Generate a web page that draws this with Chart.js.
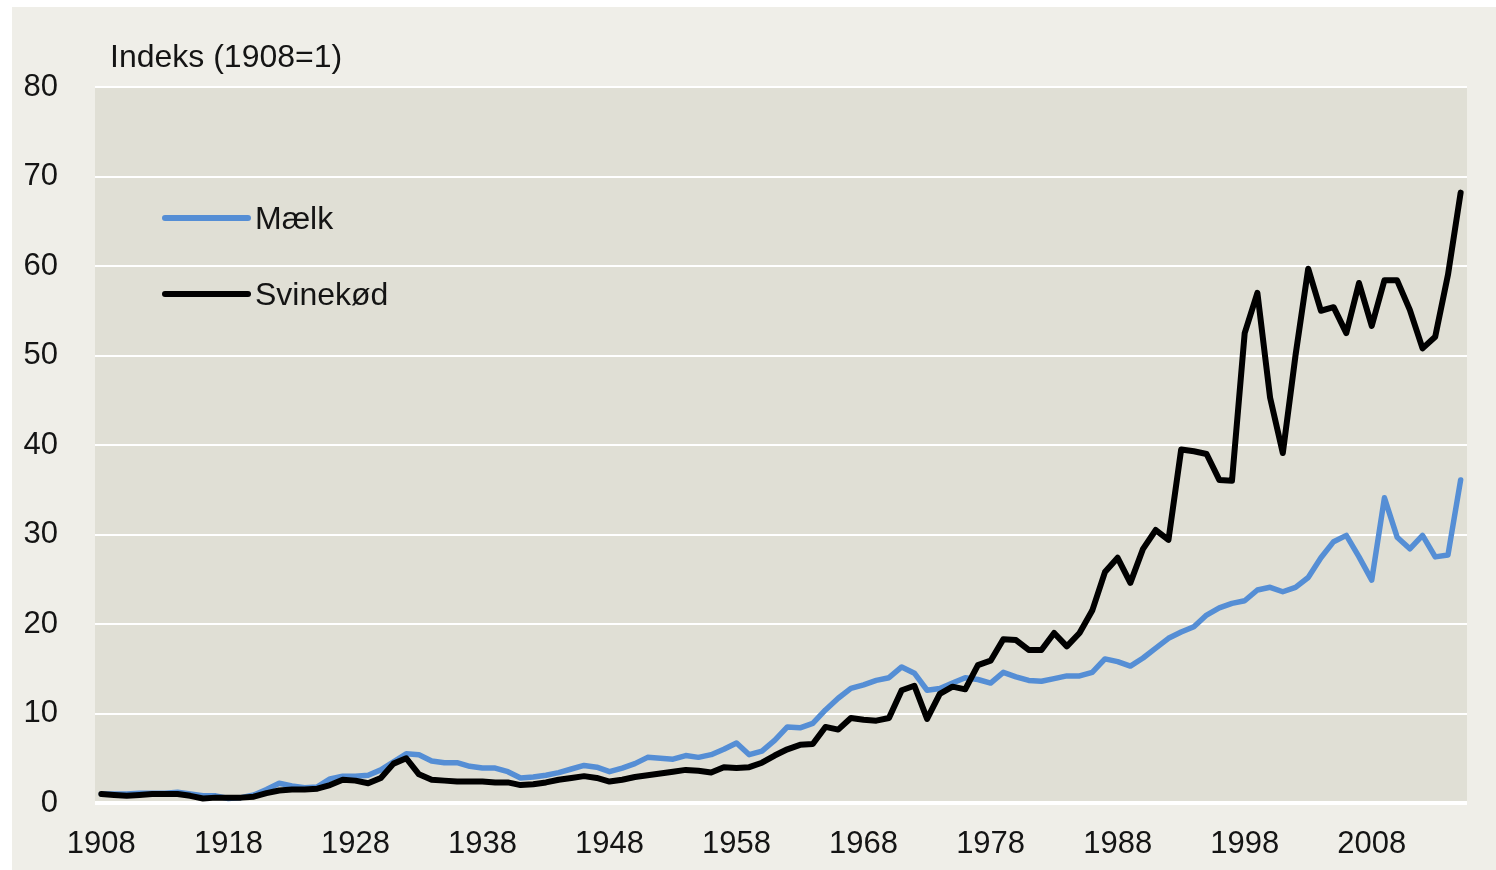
<!DOCTYPE html>
<html lang="da">
<head>
<meta charset="utf-8">
<title>Indeks (1908=1) – Mælk og Svinekød</title>
<script src="https://cdn.jsdelivr.net/npm/chart.js@4.4.1/dist/chart.umd.min.js"></script>
<style>
  html, body { margin: 0; padding: 0; background: #ffffff; }
  #panel {
    position: absolute; left: 12px; top: 7px;
    width: 1484px; height: 863px;
    background: #efeee8;
  }
</style>
</head>
<body>
<div id="panel"><canvas id="chart"></canvas></div>
<script>
// years 1908..2015
const years = [];
for (let y = 1908; y <= 2015; y++) years.push(String(y));

const tickYears = ['1908', '1918', '1928', '1938', '1948', '1958', '1968', '1978', '1988', '1998', '2008'];
const yTicks = [0, 10, 20, 30, 40, 50, 60, 70, 80];

const maelk = [
  1.0, 1.0, 1.0, 1.1, 1.1, 1.1, 1.2, 1.0, 0.8, 0.8,   // 1908-1917
  0.5, 0.6, 0.9, 1.5, 2.2, 1.9, 1.7, 1.8, 2.7, 3.0,   // 1918-1927
  3.0, 3.1, 3.7, 4.6, 5.5, 5.4, 4.7, 4.5, 4.5, 4.1,   // 1928-1937
  3.9, 3.9, 3.5, 2.8, 2.9, 3.1, 3.4, 3.8, 4.2, 4.0,   // 1938-1947
  3.5, 3.9, 4.4, 5.1, 5.0, 4.9, 5.3, 5.1, 5.4, 6.0,   // 1948-1957
  6.7, 5.4, 5.8, 7.0, 8.5, 8.4, 8.9, 10.4, 11.7, 12.8, // 1958-1967
  13.2, 13.7, 14.0, 15.2, 14.5, 12.6, 12.8, 13.4, 14.0, 13.8, // 1968-1977
  13.4, 14.6, 14.1, 13.7, 13.6, 13.9, 14.2, 14.2, 14.6, 16.1, // 1978-1987
  15.8, 15.3, 16.2, 17.3, 18.4, 19.1, 19.7, 21.0, 21.8, 22.3, // 1988-1997
  22.6, 23.8, 24.1, 23.6, 24.1, 25.2, 27.4, 29.2, 29.9, 27.5, // 1998-2007
  24.9, 34.1, 29.7, 28.4, 29.9, 27.5, 27.7, 36.1              // 2008-2015
];

const svinekoed = [
  1.0, 0.9, 0.8, 0.9, 1.0, 1.0, 1.0, 0.8, 0.5, 0.6,   // 1908-1917
  0.6, 0.6, 0.7, 1.1, 1.4, 1.5, 1.5, 1.6, 2.0, 2.6,   // 1918-1927
  2.5, 2.2, 2.8, 4.4, 5.0, 3.2, 2.6, 2.5, 2.4, 2.4,   // 1928-1937
  2.4, 2.3, 2.3, 2.0, 2.1, 2.3, 2.6, 2.8, 3.0, 2.8,   // 1938-1947
  2.4, 2.6, 2.9, 3.1, 3.3, 3.5, 3.7, 3.6, 3.4, 4.0,   // 1948-1957
  3.9, 4.0, 4.5, 5.3, 6.0, 6.5, 6.6, 8.5, 8.2, 9.5,   // 1958-1967
  9.3, 9.2, 9.5, 12.6, 13.1, 9.4, 12.2, 13.0, 12.7, 15.4, // 1968-1977
  15.9, 18.3, 18.2, 17.1, 17.1, 19.0, 17.5, 19.0, 21.5, 25.8, // 1978-1987
  27.4, 24.6, 28.4, 30.5, 29.4, 39.5, 39.3, 39.0, 36.1, 36.0, // 1988-1997
  52.5, 57.0, 45.3, 39.1, 50.0, 59.7, 55.0, 55.4, 52.5, 58.1, // 1998-2007
  53.3, 58.4, 58.4, 55.1, 50.8, 52.1, 59.0, 68.2              // 2008-2015
];

const FONT = '"Liberation Sans", Arial, sans-serif';
const TEXT = '#141414';

// plot background + y-axis caption + legend inside the plot
const decor = {
  id: 'decor',
  beforeDraw(chart) {
    const { ctx, chartArea: a } = chart;
    ctx.save();
    ctx.fillStyle = '#e0dfd5';
    ctx.fillRect(a.left, a.top, a.right - a.left, a.bottom - a.top);
    ctx.restore();
  },
  afterDraw(chart) {
    const { ctx, chartArea: a } = chart;
    ctx.save();
    ctx.font = '32px ' + FONT;
    ctx.fillStyle = TEXT;
    ctx.textBaseline = 'middle';
    ctx.textAlign = 'left';
    ctx.fillText('Indeks (1908=1)', a.left + 15, a.top - 29);

    const items = [chart.data.datasets[1], chart.data.datasets[0]];
    items.forEach((ds, i) => {
      const y = a.top + 131 + i * 76;
      ctx.strokeStyle = ds.borderColor;
      ctx.lineWidth = 6;
      ctx.lineCap = 'round';
      ctx.beginPath();
      ctx.moveTo(a.left + 70, y);
      ctx.lineTo(a.left + 153, y);
      ctx.stroke();
      ctx.fillText(ds.label, a.left + 160, y + 2);
    });
    ctx.restore();
  }
};

new Chart(document.getElementById('chart'), {
  type: 'line',
  data: {
    labels: years,
    datasets: [
      {
        label: 'Svinekød',
        data: svinekoed,
        borderColor: '#000000',
        borderWidth: 6,
        order: 0,
      },
      {
        label: 'Mælk',
        data: maelk,
        borderColor: '#558ed5',
        borderWidth: 5.5,
        order: 1,
      },
    ],
  },
  options: {
    responsive: true,
    maintainAspectRatio: false,
    animation: false,
    layout: { padding: { top: 80, right: 29, bottom: 0, left: 0 } },
    elements: {
      point: { radius: 0 },
      line: { tension: 0, borderJoinStyle: 'round', borderCapStyle: 'round' },
    },
    plugins: {
      legend: { display: false },
      tooltip: { enabled: false },
    },
    scales: {
      x: {
        type: 'category',
        offset: true,
        grid: { display: false, drawTicks: false },
        border: { display: false },
        afterFit: s => { s.height = 67; },
        ticks: {
          autoSkip: false,
          maxRotation: 0,
          minRotation: 0,
          padding: 23,
          color: TEXT,
          font: { family: FONT, size: 31 },
          callback: function (v) {
            const lab = this.getLabelForValue(v);
            return tickYears.includes(lab) ? lab : '';
          },
        },
      },
      y: {
        min: yTicks[0],
        max: yTicks[yTicks.length - 1],
        afterFit: s => { s.width = 83; },
        afterBuildTicks: s => { s.ticks = yTicks.map(v => ({ value: v })); },
        grid: {
          color: '#ffffff',
          lineWidth: c => (c.tick && c.tick.value === 0 ? 4 : 2),
          drawTicks: false,
        },
        border: { display: false },
        ticks: {
          padding: 37,
          color: TEXT,
          font: { family: FONT, size: 31 },
        },
      },
    },
  },
  plugins: [decor],
});
</script>
</body>
</html>
